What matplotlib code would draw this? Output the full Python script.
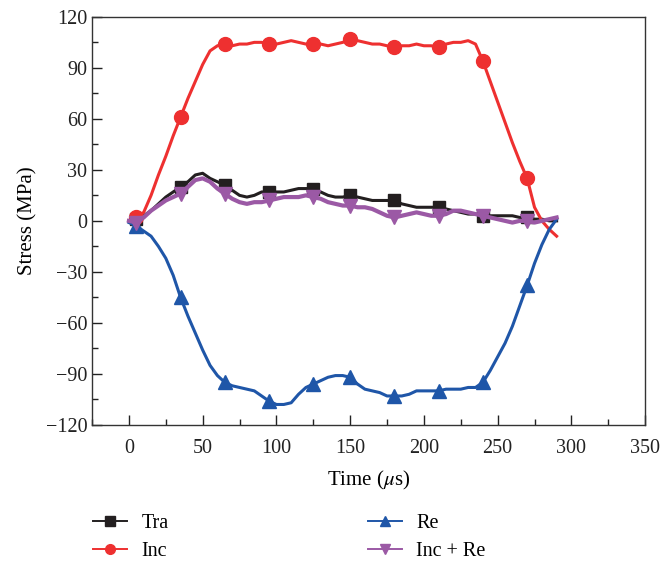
import numpy as np
import matplotlib
matplotlib.use("Agg")
import matplotlib.pyplot as plt
from matplotlib.ticker import MultipleLocator

plt.rcParams['font.family'] = ['Liberation Serif', 'DejaVu Serif']
plt.rcParams['mathtext.fontset'] = 'stix'

# time axis (us), values every 5 us
time = np.arange(0, 295, 5)

inc = [0, 2, 5, 15, 27, 38, 50, 61, 72, 82, 92, 100, 103, 104, 103, 104,
       104, 105, 105, 104, 104, 105, 106, 105, 104, 104, 104, 103, 104, 105,
       107, 106, 105, 104, 104, 103, 102, 103, 103, 104, 103, 103, 102, 104,
       105, 105, 106, 104, 94, 82, 70, 58, 46, 35, 25, 8, 0, -5, -9]

tra = [0, 1, 3, 6, 10, 14, 17, 20, 23, 27, 28, 25, 23, 21, 18, 15,
       14, 15, 17, 17, 17, 17, 18, 19, 19, 19, 17, 15, 14, 14,
       15, 14, 13, 12, 12, 12, 12, 10, 9, 8, 8, 8, 8, 7,
       6, 5, 4, 4, 3, 3, 3, 3, 3, 2, 2, 1, 1, 0, 0]

re = [-1, -3, -6, -9, -15, -22, -32, -45, -56, -66, -76, -85, -91, -95, -97, -98,
      -99, -100, -103, -106, -108, -108, -107, -102, -98, -96, -94, -92, -91, -91,
      -92, -96, -99, -100, -101, -103, -103, -103, -102, -100, -100, -100, -100, -99,
      -99, -99, -98, -98, -95, -88, -80, -72, -62, -50, -38, -25, -14, -5, 1]

inc_re = [0, -1, 2, 6, 9, 12, 14, 16, 20, 24, 25, 23, 19, 16, 13, 11,
          10, 11, 11, 12, 13, 14, 14, 14, 15, 14, 13, 11, 10, 9,
          9, 8, 8, 7, 5, 3, 2, 3, 4, 5, 4, 3, 3, 4,
          6, 6, 5, 4, 3, 2, 1, 0, -1, 0, 0, -1, 0, 1, 2]

# marker positions (indices into time)
marks = [1, 7, 13, 19, 25, 30, 36, 42, 48, 54]

fig, ax = plt.subplots(figsize=(6.72, 5.62), dpi=100)
fig.subplots_adjust(left=0.137, right=0.96, top=0.97, bottom=0.244)

ax.plot(time, tra, color='#231f20', lw=2.2, marker='s', ms=8,
        markevery=marks, label='Tra')
ax.plot(time, inc, color='#ee3030', lw=2.2, marker='o', ms=10,
        markevery=marks, label='Inc')
ax.plot(time, re, color='#1f56a8', lw=2.2, marker='^', ms=10,
        markevery=marks, label='Re')
ax.plot(time, inc_re, color='#9b59a5', lw=3, marker='v', ms=10,
        markevery=marks, label='Inc + Re')

ax.set_xlim(-25, 350)
ax.set_ylim(-120, 120)
ax.xaxis.set_major_locator(MultipleLocator(50))
ax.xaxis.set_minor_locator(MultipleLocator(25))
ax.yaxis.set_major_locator(MultipleLocator(30))
ax.yaxis.set_minor_locator(MultipleLocator(15))
ax.tick_params(which='both', direction='in', top=False, right=False,
               labelsize=14.5, colors='#222222')
ax.tick_params(which='major', length=7, width=1)
ax.tick_params(which='minor', length=4, width=1)
ax.tick_params(axis='x', pad=10)
for s in ax.spines.values():
    s.set_color('#333333')
    s.set_linewidth(1)

ax.set_xlabel(r'Time ($\mu$s)', fontsize=15, labelpad=8)
ax.set_ylabel('Stress (MPa)', fontsize=15, labelpad=6)

leg = fig.legend(loc='upper left', bbox_to_anchor=(93 / 672, 1 - 514 / 562),
                 ncol=2, frameon=False, fontsize=14.5, handlelength=1.7,
                 handletextpad=0.7, columnspacing=9.9, labelspacing=0.45,
                 borderpad=0, borderaxespad=0)
for h in leg.get_lines():
    h.set_linewidth(1.4)
    h.set_markersize(7)

fig.savefig('out.png', dpi=100)
